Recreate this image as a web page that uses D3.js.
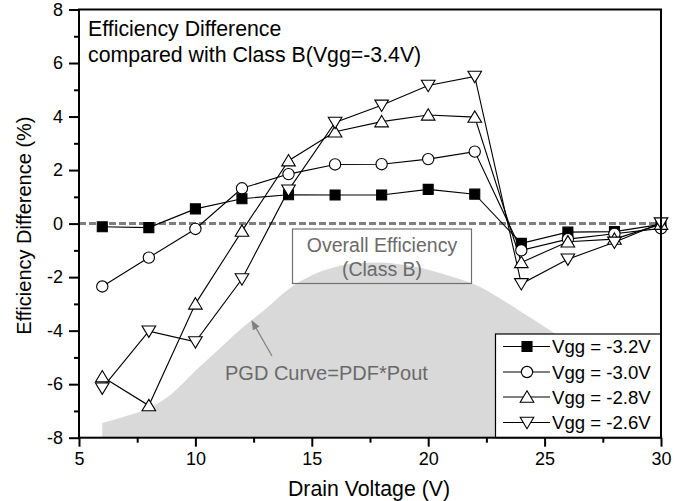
<!DOCTYPE html>
<html>
<head>
<meta charset="utf-8">
<script src="https://cdn.jsdelivr.net/npm/d3@7"></script>
<style>
  html, body { margin: 0; padding: 0; background: #fff; }
  svg { display: block; font-family: "Liberation Sans", Arial, sans-serif; }
</style>
</head>
<body>
<svg id="chart" width="689" height="501"></svg>
<script>
// ---- data ----
const voltages = [6, 8, 10, 12, 14, 16, 18, 20, 22, 24, 26, 28, 30];
const vgg32 = [-0.12, -0.15, 0.55, 0.93, 1.08, 1.07, 1.07, 1.28, 1.10, -0.74, -0.32, -0.30, -0.03];
const vgg30 = [-2.35, -1.27, -0.20, 1.32, 1.85, 2.21, 2.22, 2.41, 2.69, -1.00, -0.58, -0.38, -0.18];
const vgg28 = [-5.72, -6.80, -3.00, -0.28, 2.35, 3.43, 3.81, 4.06, 3.98, -1.45, -0.68, -0.58, -0.02];
const vgg26 = [-6.15, -4.02, -4.42, -2.07, 1.25, 3.78, 4.42, 5.16, 5.50, -2.25, -1.33, -0.70, 0.02];
const seriesNames = ["Vgg = -3.2V", "Vgg = -3.0V", "Vgg = -2.8V", "Vgg = -2.6V"];

const pgdV   = [6, 7, 8, 9, 10, 11, 12, 13, 14, 15, 16, 17, 18, 19, 20, 21, 22, 23, 24, 25, 26, 27, 28];
const pgdVal = [-7.45, -7.2, -6.9, -6.35, -5.5, -4.7, -3.9, -3.2, -2.45, -1.93, -1.62, -1.47, -1.45, -1.55, -1.72, -1.98, -2.28, -2.75, -3.3, -3.85, -4.45, -5.1, -5.8];

const xTicks = [5, 10, 15, 20, 25, 30];
const xMinor = [7.5, 12.5, 17.5, 22.5, 27.5];
const yTicks = [-8, -6, -4, -2, 0, 2, 4, 6, 8];
const yMinor = [-7, -5, -3, -1, 1, 3, 5, 7];

// ---- layout ----
const svg = d3.select("#chart");
const L = 79, R = 661, T = 9.5, B = 437.7;
const x = d3.scaleLinear().domain([5, 30]).range([L, R]);
const y = d3.scaleLinear().domain([-8, 8]).range([B, T]);
const FONT = '"Liberation Sans", Arial, sans-serif';

// PGD gray area
const area = d3.area()
  .x((d, i) => x(pgdV[i]))
  .y0(y(-8))
  .y1((d) => y(d))
  .curve(d3.curveMonotoneX);
svg.append("path").attr("d", area(pgdVal)).attr("fill", "#d9d9d9");

// annotation box
svg.append("rect").attr("x", 292.5).attr("y", 229).attr("width", 179).attr("height", 54.5)
  .attr("fill", "none").attr("stroke", "#707070").attr("stroke-width", 1.2);
svg.append("text").attr("x", 382).attr("y", 251.5).attr("text-anchor", "middle")
  .attr("font-size", 19.5).attr("fill", "#6a6a6a").text("Overall Efficiency");
svg.append("text").attr("x", 382).attr("y", 276).attr("text-anchor", "middle")
  .attr("font-size", 19.5).attr("fill", "#6a6a6a").text("(Class B)");

// PGD label + arrow
svg.append("text").attr("x", 225).attr("y", 380)
  .attr("font-size", 20).attr("fill", "#6a6a6a").text("PGD Curve=PDF*Pout");
svg.append("defs").append("marker").attr("id", "arr").attr("viewBox", "0 0 10 10")
  .attr("refX", 9).attr("refY", 5).attr("markerWidth", 8).attr("markerHeight", 8)
  .attr("orient", "auto-start-reverse")
  .append("path").attr("d", "M0,1 L10,5 L0,9 Z").attr("fill", "#808080");
svg.append("line").attr("x1", 272).attr("y1", 356).attr("x2", 252).attr("y2", 321)
  .attr("stroke", "#808080").attr("stroke-width", 1.2).attr("marker-end", "url(#arr)");

// zero dashed line
svg.append("line").attr("x1", x(5)).attr("x2", x(30)).attr("y1", y(0)).attr("y2", y(0))
  .attr("stroke", "#7f7f7f").attr("stroke-width", 3).attr("stroke-dasharray", "7,3");

// series
const allSeries = [vgg32, vgg30, vgg28, vgg26];
const line = d3.line().x((d, i) => x(voltages[i])).y(d => y(d));
function markerPath(k) {
  if (k === 0) return d3.symbol().type(d3.symbolSquare).size(100)();
  if (k === 1) return d3.symbol().type(d3.symbolCircle).size(100)();
  return "M0,-6.2 L6.8,5.2 L-6.8,5.2 Z";
}
function markerFill(k) { return k === 0 ? "#000" : "#fff"; }
function markerRot(k) { return k === 3 ? " rotate(180)" : ""; }

allSeries.forEach((s, k) => {
  svg.append("path").attr("d", line(s)).attr("fill", "none")
    .attr("stroke", "#000").attr("stroke-width", 1.1);
});
allSeries.forEach((s, k) => {
  svg.append("g").selectAll("path").data(s).join("path")
    .attr("d", markerPath(k))
    .attr("transform", (d, i) => `translate(${x(voltages[i])},${y(d)})${markerRot(k)}`)
    .attr("fill", markerFill(k)).attr("stroke", "#000").attr("stroke-width", 1.1);
});

// legend
const lg = svg.append("g");
lg.append("rect").attr("x", 495.5).attr("y", 334).attr("width", R - 495.5).attr("height", B - 334)
  .attr("fill", "#fff").attr("stroke", "#000").attr("stroke-width", 1.2);
const legY = [346.5, 372, 397, 422.5];
seriesNames.forEach((name, k) => {
  lg.append("line").attr("x1", 503).attr("x2", 550).attr("y1", legY[k]).attr("y2", legY[k])
    .attr("stroke", "#000").attr("stroke-width", 1.1);
  lg.append("path").attr("d", markerPath(k))
    .attr("transform", `translate(527,${legY[k]})${markerRot(k)}`)
    .attr("fill", markerFill(k)).attr("stroke", "#000").attr("stroke-width", 1.1);
  lg.append("text").attr("x", 552).attr("y", legY[k] + 6.5).attr("font-size", 18.6)
    .attr("fill", "#000").text(name);
});

// axes
svg.append("g").attr("transform", `translate(0,${B})`)
  .call(d3.axisBottom(x).tickValues(xTicks).tickSize(9).tickPadding(6).tickFormat(d3.format("d")));
svg.append("g").attr("transform", `translate(0,${B})`)
  .call(d3.axisBottom(x).tickValues(xMinor).tickSize(5).tickFormat(""));
const yAxis = svg.append("g").attr("transform", `translate(${L},0)`)
  .call(d3.axisLeft(y).tickValues(yTicks).tickSize(10).tickPadding(6).tickFormat(d3.format("d")));
svg.append("g").attr("transform", `translate(${L},0)`)
  .call(d3.axisLeft(y).tickValues(yMinor).tickSize(5).tickFormat(""));
svg.selectAll(".domain").remove();
svg.selectAll(".tick line").attr("stroke", "#000").attr("stroke-width", 2);
svg.selectAll(".tick text").attr("font-size", 18).attr("font-family", FONT).attr("fill", "#000");
yAxis.selectAll(".tick text").text(d => d < 0 ? "-" + Math.abs(d) : d);

// frame
svg.append("rect").attr("x", L).attr("y", T).attr("width", R - L).attr("height", B - T)
  .attr("fill", "none").attr("stroke", "#000").attr("stroke-width", 2);

// titles
svg.append("text").attr("x", 369).attr("y", 496).attr("text-anchor", "middle")
  .attr("font-size", 21.3).attr("fill", "#000").text("Drain Voltage (V)");
svg.append("text").attr("transform", `translate(31,${(T + B) / 2 + 2}) rotate(-90)`)
  .attr("text-anchor", "middle").attr("font-size", 20).attr("fill", "#000")
  .text("Efficiency Difference (%)");
svg.append("text").attr("x", 88).attr("y", 36).attr("font-size", 21.3).attr("fill", "#000")
  .text("Efficiency Difference");
svg.append("text").attr("x", 88).attr("y", 62).attr("font-size", 21.3).attr("fill", "#000")
  .text("compared with Class B(Vgg=-3.4V)");
</script>
</body>
</html>
